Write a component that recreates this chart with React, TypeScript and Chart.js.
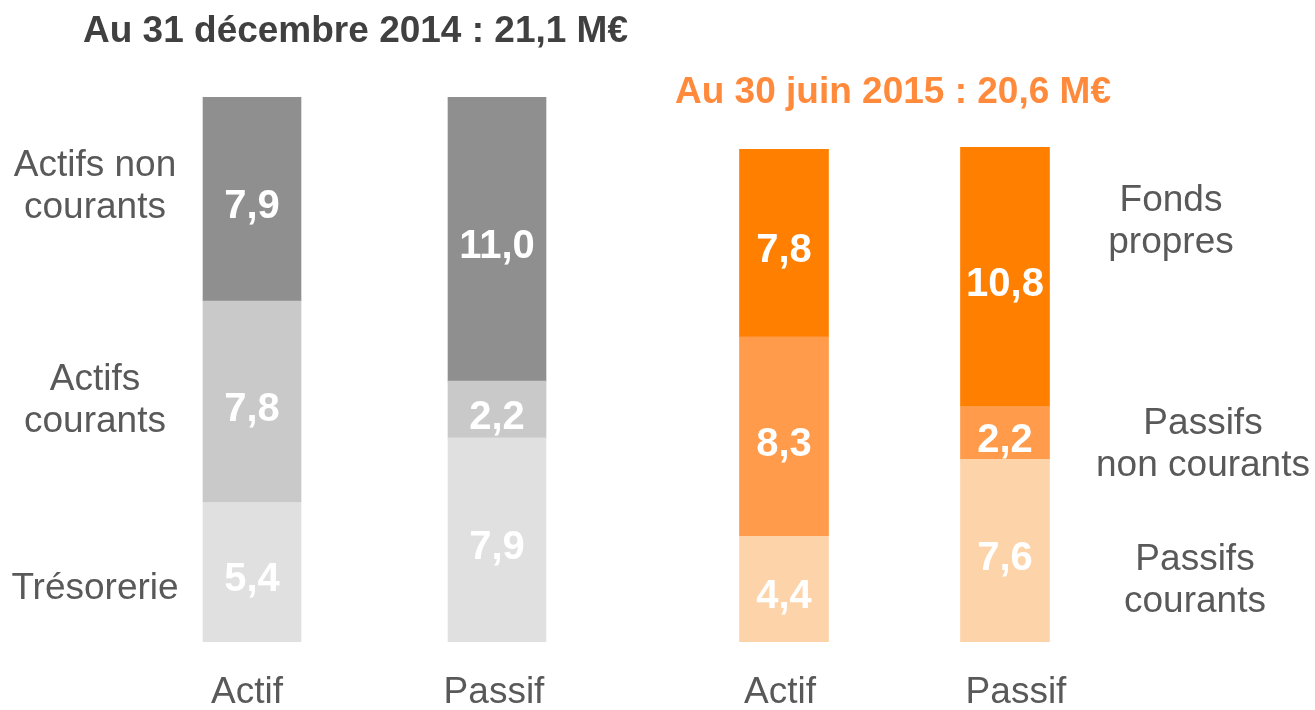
import React, { useEffect, useRef } from 'react';
import { Chart, registerables } from 'chart.js';

Chart.register(...registerables);

const FONT = '"Liberation Sans", Arial, Helvetica, sans-serif';

// Categories (bars)
const categories = ['Actif', 'Passif'];

// 31 décembre 2014 (M€)
const dec2014Title = 'Au 31 décembre 2014 : 21,1 M€';
const dec2014Total = 21.1;
const dec2014Bottom = [5.4, 7.9];
const dec2014Middle = [7.8, 2.2];
const dec2014Top = [7.9, 11.0];
const dec2014SideLabels = [['Actifs non', 'courants'], ['Actifs', 'courants'], ['Trésorerie']];

// 30 juin 2015 (M€)
const jun2015Title = 'Au 30 juin 2015 : 20,6 M€';
const jun2015Total = 20.6;
const jun2015Bottom = [4.4, 7.6];
const jun2015Middle = [8.3, 2.2];
const jun2015Top = [7.8, 10.8];
const jun2015SideLabels = [['Fonds', 'propres'], ['Passifs', 'non courants'], ['Passifs', 'courants']];

const fmt = (v: number) => v.toFixed(1).replace('.', ',');

const textPlugin = {
  id: 'slideText',
  afterDatasetsDraw(chart: any, _args: any, opts: any) {
    const ctx = chart.ctx as CanvasRenderingContext2D;
    ctx.save();
    ctx.textBaseline = 'alphabetic';
    // values inside segments
    ctx.font = `bold ${opts.valueSize}px ${FONT}`;
    ctx.fillStyle = '#ffffff';
    ctx.textAlign = 'center';
    chart.data.datasets.forEach((ds: any, di: number) => {
      const meta = chart.getDatasetMeta(di);
      meta.data.forEach((bar: any, i: number) => {
        const p = bar.getProps(['x', 'y', 'base'], true);
        ctx.fillText(fmt(ds.data[i]), p.x, (p.y + p.base) / 2 + opts.valueShift);
      });
    });
    // category labels under bars
    const xs = chart.scales.x;
    ctx.font = `${opts.labelSize}px ${FONT}`;
    ctx.fillStyle = '#595959';
    chart.data.labels.forEach((l: string, i: number) => {
      ctx.fillText(l, xs.getPixelForValue(i) + opts.xLabelDx[i], opts.xLabelBaseline);
    });
    // side labels
    opts.sideLabels.forEach((lines: string[], k: number) => {
      const pos = opts.sidePos[k];
      lines.forEach((line: string, j: number) => {
        ctx.fillText(line, pos[0], pos[1] + j * opts.lineGap);
      });
    });
    // title
    ctx.font = `bold ${opts.titleSize}px ${FONT}`;
    ctx.fillStyle = opts.titleColor;
    ctx.textAlign = 'left';
    ctx.fillText(opts.title, opts.titleX, opts.titleBaseline);
    ctx.restore();
  },
};

function makeConfig(
  bottom: number[], middle: number[], top: number[], total: number,
  colors: string[], barThickness: number, padding: any, plug: any
): any {
  return {
    type: 'bar',
    data: {
      labels: categories,
      datasets: [
        { data: bottom, backgroundColor: colors[0], barThickness, borderWidth: 0 },
        { data: middle, backgroundColor: colors[1], barThickness, borderWidth: 0 },
        { data: top, backgroundColor: colors[2], barThickness, borderWidth: 0 },
      ],
    },
    options: {
      animation: false,
      responsive: false,
      maintainAspectRatio: false,
      layout: { padding },
      scales: {
        x: { stacked: true, display: false, offset: true },
        y: { stacked: true, display: false, min: 0, max: total },
      },
      plugins: {
        legend: { display: false },
        tooltip: { enabled: false },
        title: { display: false },
        slideText: plug,
      },
    },
    plugins: [textPlugin],
  };
}

export default function App() {
  const leftRef = useRef<HTMLCanvasElement>(null);
  const rightRef = useRef<HTMLCanvasElement>(null);

  useEffect(() => {
    const left = new Chart(
      leftRef.current!,
      makeConfig(
        dec2014Bottom, dec2014Middle, dec2014Top, dec2014Total,
        ['#e0e0e0', '#c9c9c9', '#8f8f8f'], 98,
        { top: 97, bottom: 68, left: 129.5, right: 20.5 },
        {
          valueSize: 40, valueShift: 19, labelSize: 37,
          xLabelDx: [-5, -3], xLabelBaseline: 703,
          sideLabels: dec2014SideLabels,
          sidePos: [[95, 176], [95, 390], [95, 599]],
          lineGap: 42,
          title: dec2014Title, titleSize: 37, titleColor: '#404040', titleX: 83, titleBaseline: 42,
        }
      )
    );
    const right = new Chart(
      rightRef.current!,
      makeConfig(
        jun2015Bottom, jun2015Middle, jun2015Top, jun2015Total,
        ['#fdd3aa', '#ff9b4a', '#ff7f00'], 89,
        { top: 147, bottom: 68, left: 33.5, right: 199.5 },
        {
          valueSize: 40, valueShift: 19, labelSize: 37,
          xLabelDx: [-4, 11], xLabelBaseline: 703,
          sideLabels: jun2015SideLabels,
          sidePos: [[531, 211], [563, 434], [555, 570]],
          lineGap: 42,
          title: jun2015Title, titleSize: 37, titleColor: '#ff8a3c', titleX: 35, titleBaseline: 103,
        }
      )
    );
    return () => {
      left.destroy();
      right.destroy();
    };
  }, []);

  return (
    <div style={{ position: 'fixed', left: 0, top: 0, width: 1315, height: 710, background: '#ffffff' }}>
      <canvas ref={leftRef} width={640} height={710} style={{ position: 'absolute', left: 0, top: 0, width: 640, height: 710 }} />
      <canvas ref={rightRef} width={675} height={710} style={{ position: 'absolute', left: 640, top: 0, width: 675, height: 710 }} />
    </div>
  );
}
